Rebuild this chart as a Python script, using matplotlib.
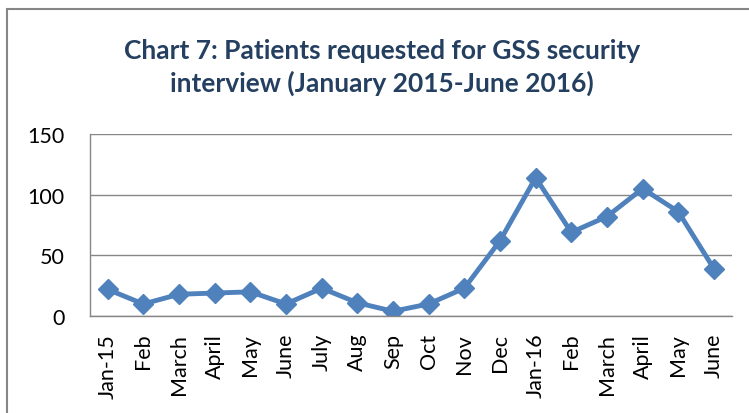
import matplotlib
matplotlib.use('Agg')
import matplotlib.pyplot as plt
from matplotlib.patches import Rectangle

months = ['Jan-15', 'Feb', 'March', 'April', 'May', 'June', 'July', 'Aug', 'Sep',
          'Oct', 'Nov', 'Dec', 'Jan-16', 'Feb', 'March', 'April', 'May', 'June']
patients = [22, 10, 18, 19, 20, 10, 23, 11, 4, 10, 23, 62, 114, 69, 82, 105, 86, 39]
yticks = [0, 50, 100, 150]

plt.rcParams['font.family'] = ['Lato', 'DejaVu Sans']

fig = plt.figure(figsize=(7.49, 4.14), dpi=100)
ax = fig.add_axes([0.120, 0.234, 0.857, 0.440])

x = list(range(len(months)))
ax.plot(x, patients, '-D', color='#4F81BD', linewidth=3.5, markersize=10,
        markeredgecolor='#4F81BD')

ax.set_xlim(-0.5, len(months) - 0.5)
ax.set_ylim(0, 150)
ax.set_yticks(yticks)
ax.set_xticks(x)
ax.set_xticklabels(months, rotation=90)
ax.tick_params(axis='both', length=0, labelsize=15.5, colors='black')
ax.tick_params(axis='y', pad=18)
ax.tick_params(axis='x', pad=12)
ax.grid(axis='y', color='#868686', linewidth=1)
ax.set_axisbelow(True)
for s in ['top', 'right']:
    ax.spines[s].set_visible(False)
for s in ['left', 'bottom']:
    ax.spines[s].set_color('#868686')
    ax.spines[s].set_linewidth(1)

fig.text(0.51, 0.837, 'Chart 7: Patients requested for GSS security\ninterview (January 2015-June 2016)',
         ha='center', va='center', fontsize=19, fontweight='bold', color='#243F60',
         linespacing=1.4)

fig.patches.append(Rectangle((7 / 749, -0.05), 1.0, 0.05 + 1 - 10 / 414,
                             transform=fig.transFigure, fill=False,
                             edgecolor='#868686', linewidth=1.5))

plt.savefig('out.png', dpi=100)
plt.close()
